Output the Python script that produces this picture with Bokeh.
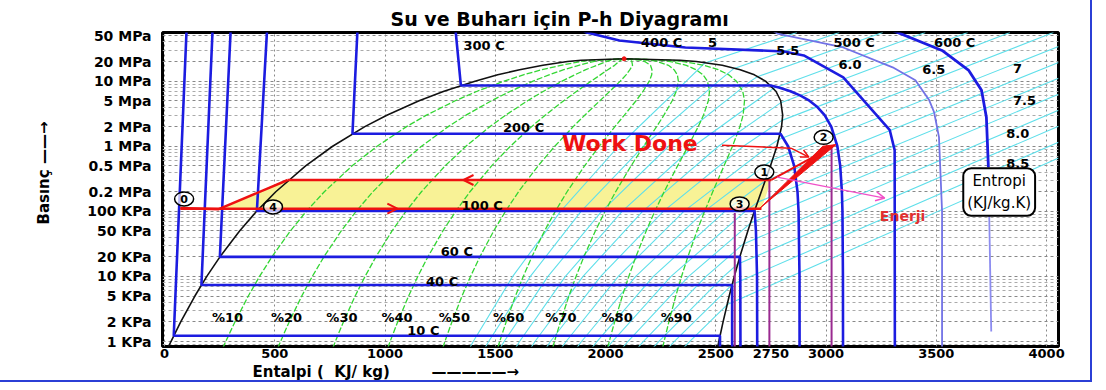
import numpy as np
from bokeh.plotting import figure
from bokeh.models import Range1d, FixedTicker, Label, Arrow, OpenHead, Title
from bokeh.embed import file_html
from bokeh.resources import INLINE
from bokeh.core.properties import value

FONT = "DejaVu Sans"

# ---------------- data ----------------
# saturation table (P in kPa, h in kJ/kg)
sat_P = [0.6113, 1, 2, 5, 10, 20, 50, 100, 200, 500, 1000, 2000, 3000, 5000, 7000,
         10000, 12500, 15000, 17500, 20000, 21000, 22064]
sat_hf = [0.0, 29.3, 73.5, 137.8, 191.8, 251.4, 340.5, 417.5, 504.7, 640.1, 762.5, 908.5,
          1008.3, 1154.5, 1267.4, 1407.9, 1511.0, 1610.3, 1716.0, 1827.2, 1889.0, 2084.3]
sat_hg = [2501.4, 2513.7, 2533.0, 2560.7, 2583.9, 2608.9, 2645.2, 2675.0, 2706.2, 2748.1,
          2777.1, 2798.3, 2803.2, 2794.2, 2772.6, 2725.5, 2675.0, 2610.7, 2529.0, 2411.4,
          2338.0, 2084.3]
quality_levels = [0.1, 0.2, 0.3, 0.4, 0.5, 0.6, 0.7, 0.8, 0.9]
quality_labels = ["%10", "%20", "%30", "%40", "%50", "%60", "%70", "%80", "%90"]
quality_label_h = [215, 483, 734, 984, 1244, 1490, 1727, 1982, 2250]
quality_label_P = 2.33

# isotherms
iso10_h = [100, 42, 2519, 2519]
iso10_P = [60000, 1.228, 1.228, 0.5]
iso40_h = [218, 167.5, 2574, 2574]
iso40_P = [60000, 7.384, 7.384, 0.5]
iso60_h = [300, 251.1, 2609.6, 2611, 2612]
iso60_P = [60000, 19.94, 19.94, 10, 0.5]
iso100_h = [465, 419.0, 2676.0, 2682, 2687, 2688]
iso100_P = [60000, 101.35, 101.35, 50, 10, 0.5]
iso200_h = [875, 852.4, 2793.2, 2827.9, 2855.4, 2870.5, 2875.3, 2879.5, 2880]
iso200_P = [60000, 1554.9, 1554.9, 1000, 500, 200, 100, 10, 0.5]
iso300_h = [1320, 1344.0, 2749.0, 2786, 2838.4, 2884.2, 2924.5, 2960.7, 2993.5, 3023.5,
            3051.2, 3064.2, 3071.8, 3074.3, 3076.5, 3077]
iso300_P = [60000, 8581, 8581, 8000, 7000, 6000, 5000, 4000, 3000, 2000, 1000, 500, 200,
            100, 10, 0.5]
iso400_h = [1890, 1915, 2063, 2362, 2810, 2899, 3078, 3289, 3311, 3312]
iso400_P = [62000, 55900, 42200, 32900, 28600, 24800, 11400, 1765, 871, 0.5]
iso500_h = [2750, 2779, 3078, 3302, 3405, 3468, 3490, 3512, 3526, 3526]
iso500_P = [62000, 53900, 32900, 16300, 10300, 5080, 3330, 1380, 100, 0.5]
iso600_h = [3290, 3302, 3526, 3647, 3705, 3727, 3736]
iso600_P = [65000, 60000, 29600, 14600, 7230, 2790, 479]
iso600_low_h = [3736, 3749]
iso600_low_P = [479, 1.42]

iso_label_text = ["300 C", "400 C", "500 C", "600 C", "200 C", "100 C", "60 C", "40 C", "10 C"]
iso_label_h = [1356, 2161, 3034, 3490, 1535, 1347, 1253, 1186, 1101]
iso_label_P = [35300, 39300, 39300, 39300, 1961, 121, 23.9, 8.3, 1.47]

# isentropes (kJ/kg.K)
isen_s = [5.0, 5.25, 5.5, 5.75, 6.0, 6.25, 6.5, 6.75, 7.0, 7.25, 7.5, 7.75, 8.0, 8.25, 8.5]
isen_h_p0611 = [1366, 1434, 1503, 1571, 1639, 1708, 1776, 1844, 1912, 1981, 2049, 2117, 2186, 2254, 2322]
isen_h_p1 = [1400, 1470, 1540, 1610, 1680, 1750, 1821, 1891, 1961, 2031, 2101, 2171, 2241, 2311, 2381]
isen_h_p10 = [1579, 1659, 1739, 1818, 1898, 1978, 2058, 2137, 2217, 2297, 2377, 2456, 2536, None, None]
isen_h_p100 = [1796, 1889, 1982, 2075, 2168, 2262, 2355, 2448, 2541, 2634, None, None, None, None, None]
isen_h_p1000 = [2059, 2172, 2286, 2399, 2512, 2625, 2739, None, None, None, None, None, None, None, None]
isen_h_p10000 = [2366, 2512, 2658, None, None, None, None, None, None, None, None, None, None, None, None]
isen_cross_h = [2450, 2583, 2688, 2760, 2795, 2800, 2785, 2755, 2723, 2690, 2658, 2625, 2598, 2574, 2552]
isen_cross_P = [19000, 15700, 11650, 7685, 4672, 2496, 1270, 616, 292, 138.5, 66, 31.6, 15.4, 7.5, 3.7]
isen_exit_h = [2868, 3060, 3257, 3450, 3642, 3834, 4031, 4054, 4054, 4054, 4054, 4054, 4054, 4054, 4054]
isen_exit_P = [55900, 55900, 55900, 55900, 55900, 55900, 55900, 34100, 19400, 11040, 6280, 3570, 2030, 1156, 658]
isen_label_text = ["5", "5.5", "6.0", "6.5", "7", "7.5", "8.0", "8.5"]
isen_label_h = [2465, 2774, 3056, 3436, 3848, 3848, 3817, 3817]
isen_label_P = [39300, 29600, 18100, 15200, 15700, 5080, 1585, 551]

# Rankine cycle sketch
cyc_pump_h = [72, 246, 559]
cyc_pump_P = [113, 108, 303]
cyc_low_h = [72, 2707]
cyc_low_P = [110, 110]
cyc_high_h = [559, 2752]
cyc_high_P = [303, 303]
cyc_fill_h = [246, 559, 2752, 2707]
cyc_fill_P = [108, 303, 303, 110]
cyc_wedge_h = [2698, 3045, 2985]
cyc_wedge_P = [110, 1060, 1000]
cyc_hi_to2_h = [2752, 3040]
cyc_hi_to2_P = [303, 1040]
cyc_pt_text = ["0", "4", "3", "1", "2"]
cyc_pt_h = [89, 492, 2608, 2720, 2989]
cyc_pt_P = [155, 117, 130, 401, 1372]
purple_h = [2586, 2743, 3025]
purple_top_P = [94.5, 303, 1040]
work_h = [2528, 2841]
work_P = [1040, 935]
work_arrow_end = (2922, 681)
energy_start = (2778, 336)
energy_end = (3266, 160)
critical_h = [2084.3]
critical_P = [22064]

x_ticks = [0, 500, 1000, 1500, 2000, 2500, 2750, 3000, 3500, 4000]
x_grid_ticks = [0, 500, 1000, 1500, 2000, 2500, 3000, 3500, 4000]
y_ticks = [1, 2, 5, 10, 20, 50, 100, 200, 500, 1000, 2000, 5000, 10000, 20000, 50000]
y_tick_labels = ["1 KPa", "2 KPa", "5 KPa", "10 KPa", "20 KPa", "50 KPa", "100 KPa", "0.2 MPa",
                 "0.5 MPa", "1 MPa", "2 MPa", "5 Mpa", "10 MPa", "20 MPa", "50 MPa"]

# ---------------- figure ----------------
BLUE = "#1c1ce0"
RED = "#ee1111"
PURPLE = "#9a2a90"
GREEN = "#33d633"
CYAN = "#5fdfea"

p = figure(width=1090, height=380, x_range=Range1d(-9, 4054), y_range=Range1d(0.8385, 55900),
           y_axis_type="log", output_backend="svg", toolbar_location=None,
           min_border_left=150, min_border_right=32, min_border_top=32, min_border_bottom=33,
           background_fill_color="white", border_fill_color="white")
p.styles = {"outline": "2px solid #2b3fd6", "outline-offset": "0px"}
p.outline_line_color = "black"
p.outline_line_width = 3

p.title.text = "Su ve Buharı için  P-h Diyagramı"
p.title.align = "left"
p.title.offset = 228
p.title.standoff = 5
p.title.text_font = FONT
p.title.text_font_style = "bold"
p.title.text_font_size = "19px"
p.title.text_color = "black"

p.add_layout(Title(text="Entalpi (\u00a0 KJ/ kg)" + "\u00a0" * 8 + "\u2014" * 5 + "\u2192",
                   align="left", offset=90, standoff=0, text_font=FONT, text_font_style="bold",
                   text_font_size="15px", text_color="black"), "below")
p.add_layout(Title(text="Basınç \u2014\u2014\u2192", align="left", offset=122, standoff=64,
                   text_font=FONT, text_font_style="bold", text_font_size="15px",
                   text_color="black"), "left")

minor = []
for k in range(-1, 5):
    for m in range(1, 10):
        v = m * 10 ** k
        if 0.8 < v < 56000 and v not in y_ticks:
            minor.append(v)
p.yaxis.ticker = FixedTicker(ticks=y_ticks, minor_ticks=minor)
p.yaxis.major_label_overrides = {t: l for t, l in zip(y_ticks, y_tick_labels)}
p.xaxis.ticker = FixedTicker(ticks=x_ticks)
for ax in (p.xaxis, p.yaxis):
    ax.axis_line_color = None
    ax.major_tick_out = 0
    ax.major_tick_in = 0
    ax.minor_tick_line_color = None
    ax.major_label_text_font = FONT
    ax.major_label_text_font_style = "bold"
    ax.major_label_text_font_size = "13px"
    ax.major_label_text_color = "black"
p.yaxis.major_label_text_font_size = "14px"
p.yaxis.major_label_standoff = 7
p.xaxis.major_label_standoff = 2

p.xgrid.ticker = FixedTicker(ticks=x_grid_ticks)
p.xgrid.grid_line_color = "#888888"
p.xgrid.grid_line_dash = "2 3"
p.ygrid.grid_line_color = "#888888"
p.ygrid.grid_line_dash = "3 3"
p.ygrid.minor_grid_line_color = "#aaaaaa"
p.ygrid.minor_grid_line_dash = "3 3"

# yellow region of the cycle
p.patch(cyc_fill_h, cyc_fill_P, fill_color="#f8f296", line_color=None)

# isentropes
rows_P = [0.6113, 1, 10, 100, 1000, 10000]
rows_h = [isen_h_p0611, isen_h_p1, isen_h_p10, isen_h_p100, isen_h_p1000, isen_h_p10000]
for i, s in enumerate(isen_s):
    hs, ps = [], []
    for Prow, hrow in zip(rows_P, rows_h):
        if hrow[i] is not None and Prow < isen_cross_P[i]:
            hs.append(hrow[i])
            ps.append(Prow)
    hs += [isen_cross_h[i], isen_exit_h[i]]
    ps += [isen_cross_P[i], isen_exit_P[i]]
    p.line(hs, ps, line_color=CYAN, line_width=1.1)

# constant quality lines
hf = np.array(sat_hf)
hg = np.array(sat_hg)
for q in quality_levels:
    p.line(list(hf + q * (hg - hf)), sat_P, line_color=GREEN, line_width=1.3, line_dash="6 2")

# saturation dome
p.line(sat_hf + sat_hg[::-1], sat_P + sat_P[::-1], line_color="#111111", line_width=1.6)
p.scatter(critical_h, critical_P, size=4, color=RED)

# isotherms
for hh, pp in [(iso10_h, iso10_P), (iso40_h, iso40_P), (iso60_h, iso60_P), (iso100_h, iso100_P),
               (iso200_h, iso200_P), (iso300_h, iso300_P), (iso400_h, iso400_P)]:
    p.line(hh, pp, line_color=BLUE, line_width=2.6)
p.line(iso500_h, iso500_P, line_color="#7272e6", line_width=1.8)
p.line(iso600_h, iso600_P, line_color=BLUE, line_width=2.8)
p.line(iso600_low_h, iso600_low_P, line_color="#8c8cf0", line_width=1.8)

# purple verticals
for h0, ptop in zip(purple_h, purple_top_P):
    p.line([h0, h0], [ptop, 0.5], line_color=PURPLE, line_width=2)

# cycle lines
p.line(cyc_pump_h, cyc_pump_P, line_color=RED, line_width=2.5)
p.line(cyc_low_h, cyc_low_P, line_color=RED, line_width=2.5)
p.line(cyc_high_h, cyc_high_P, line_color=RED, line_width=2.5)
p.line(cyc_hi_to2_h, cyc_hi_to2_P, line_color=RED, line_width=2)
p.patch(cyc_wedge_h, cyc_wedge_P, fill_color=RED, line_color=RED, line_width=1)
p.line(work_h, work_P, line_color=RED, line_width=1.5)
p.add_layout(Arrow(x_start=work_h[-1], y_start=work_P[-1], x_end=work_arrow_end[0], y_end=work_arrow_end[1],
                   line_color=RED, line_width=1.5, end=OpenHead(size=8, line_color=RED, line_width=1.5)))
p.add_layout(Arrow(x_start=energy_start[0], y_start=energy_start[1], x_end=energy_end[0], y_end=energy_end[1],
                   line_color="#f050c8", line_width=1.2, end=OpenHead(size=9, line_color="#f050c8", line_width=1.5)))
p.add_layout(Arrow(x_start=1423, y_start=cyc_high_P[0], x_end=1356, y_end=cyc_high_P[0],
                   line_color=RED, line_width=1.5, end=OpenHead(size=10, line_color=RED, line_width=2)))
p.add_layout(Arrow(x_start=1000, y_start=cyc_low_P[0], x_end=1056, y_end=cyc_low_P[0],
                   line_color=RED, line_width=1.5, end=OpenHead(size=10, line_color=RED, line_width=2)))

# point markers
p.ellipse(cyc_pt_h, cyc_pt_P, width=19, height=14, width_units="screen", height_units="screen",
          fill_color="white", fill_alpha=0.7, line_color="black", line_width=1.5)
p.text(cyc_pt_h, cyc_pt_P, text=cyc_pt_text, text_align="center", text_baseline="middle",
       text_font=value(FONT), text_font_style="bold", text_font_size="11px", text_color="black")

# labels inside the plot
p.text(iso_label_h, iso_label_P, text=iso_label_text, text_align="left", text_baseline="middle",
       text_font=value(FONT), text_font_style="bold", text_font_size="13px", text_color="black")
p.text(quality_label_h, [quality_label_P] * len(quality_label_h), text=quality_labels,
       text_align="left", text_baseline="middle",
       text_font=value(FONT), text_font_style="bold", text_font_size="13px", text_color="black")
p.text(isen_label_h, isen_label_P, text=isen_label_text, text_align="left", text_baseline="middle",
       text_font=value(FONT), text_font_style="bold", text_font_size="13px", text_color="black")
p.text([1803], [1115], text=["Work Done"], text_align="left", text_baseline="middle",
       text_font=value(FONT), text_font_style="bold", text_font_size="22px", text_color=RED)
p.text([3244], [85], text=["Enerji"], text_align="left", text_baseline="middle",
       text_font=value(FONT), text_font_style="bold", text_font_size="14px", text_color="#e03030")

p.add_layout(Label(x=3785, y=198, text="Entropi\n(KJ/kg.K)", text_align="center", text_baseline="middle",
                   text_font=FONT, text_font_size="15px", text_color="black",
                   background_fill_color="white", border_line_color="black", border_line_width=2,
                   padding=4, border_radius=8))

open("out.html", "w").write(file_html(p, INLINE))
